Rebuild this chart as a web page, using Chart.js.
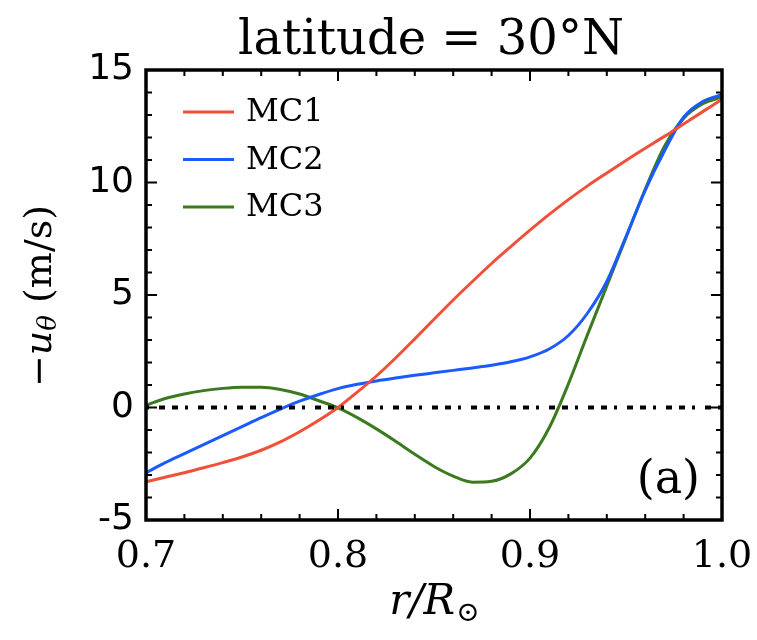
<!DOCTYPE html>
<html>
<head>
<meta charset="utf-8">
<script src="https://cdn.jsdelivr.net/npm/chart.js@4.4.1/dist/chart.umd.min.js"></script>
<style>
  html, body { margin: 0; background: #fff; }
</style>
</head>
<body>
<canvas id="chart" width="757" height="640"></canvas>
<script>
// r / R_sun
const radius = [0.70, 0.71, 0.72, 0.73, 0.74, 0.75, 0.76, 0.77, 0.78, 0.79,
                0.80, 0.81, 0.82, 0.83, 0.84, 0.85, 0.86, 0.87, 0.88, 0.89,
                0.90, 0.91, 0.92, 0.93, 0.94, 0.95, 0.96, 0.97, 0.98, 0.99, 1.00];
// -u_theta (m/s)
const mc1 = [-3.3, -3.1, -2.9, -2.68, -2.45, -2.2, -1.9, -1.53, -1.08, -0.57,
             0.0, 0.68, 1.4, 2.2, 3.05, 3.92, 4.78, 5.6, 6.4, 7.15,
             7.88, 8.58, 9.24, 9.85, 10.42, 10.98, 11.52, 12.05, 12.6, 13.15, 13.7];
const mc2 = [-2.9, -2.45, -2.05, -1.65, -1.25, -0.85, -0.45, -0.07, 0.28, 0.58,
             0.84, 1.03, 1.18, 1.31, 1.43, 1.54, 1.65, 1.76, 1.88, 2.03,
             2.25, 2.6, 3.2, 4.2, 5.6, 7.6, 9.65, 11.4, 12.9, 13.6, 13.9];
const mc3 = [0.1, 0.4, 0.6, 0.75, 0.85, 0.9, 0.9, 0.8, 0.6, 0.3,
             -0.02, -0.45, -0.95, -1.5, -2.08, -2.62, -3.05, -3.32, -3.28, -2.95,
             -2.25, -0.9, 1.05, 3.25, 5.4, 7.55, 9.7, 11.6, 12.85, 13.5, 13.8];

const seriesNames = ["MC1", "MC2", "MC3"];
const seriesColors = ["#f0503a", "#1a5aff", "#3b7a1e"];
const xTicks = [0.7, 0.8, 0.9, 1.0];
const yTicks = [-5, 0, 5, 10, 15];
const zeroX = [0.7, 1.0];
const zeroY = [0, 0];

const serif = "'DejaVu Serif', serif";
const sans = "'DejaVu Sans', sans-serif";

function curve(name, vals, color) {
    return {
        label: name,
        data: radius.map((r, i) => ({ x: r, y: vals[i] })),
        borderColor: color,
        borderWidth: 3,
        pointRadius: 0,
        cubicInterpolationMode: "monotone",
        fill: false,
        order: 1
    };
}

// frame, inward ticks, legend, labels
const decor = {
    id: "decor",
    afterDatasetsDraw(chart) {
        const ctx = chart.ctx;
        const a = chart.chartArea;
        const sx = chart.scales.x, sy = chart.scales.y;
        ctx.save();
        ctx.strokeStyle = "#000";
        ctx.lineWidth = 2;
        ctx.beginPath();
        for (let i = 0; i <= 15; i++) {
            const px = sx.getPixelForValue(0.7 + i * 0.02);
            const len = i % 5 === 0 ? 11 : 6;
            ctx.moveTo(px, a.bottom); ctx.lineTo(px, a.bottom - len);
            ctx.moveTo(px, a.top); ctx.lineTo(px, a.top + len);
        }
        for (let v = -5; v <= 15; v++) {
            const py = sy.getPixelForValue(v);
            const len = v % 5 === 0 ? 11 : 6;
            ctx.moveTo(a.left, py); ctx.lineTo(a.left + len, py);
            ctx.moveTo(a.right, py); ctx.lineTo(a.right - len, py);
        }
        ctx.stroke();
        ctx.lineWidth = 3.5;
        ctx.strokeRect(a.left, a.top, a.right - a.left, a.bottom - a.top);

        // legend
        ctx.font = "32px " + serif;
        ctx.textBaseline = "middle";
        ctx.fillStyle = "#000";
        seriesNames.forEach((n, i) => {
            const ly = a.top + 42 + i * 47.5;
            ctx.strokeStyle = seriesColors[i];
            ctx.lineWidth = 3;
            ctx.beginPath();
            ctx.moveTo(a.left + 37, ly); ctx.lineTo(a.left + 88, ly);
            ctx.stroke();
            ctx.fillText(n, a.left + 100, ly + 1);
        });

        // panel tag
        ctx.font = "46px " + serif;
        ctx.textAlign = "right";
        ctx.textBaseline = "alphabetic";
        ctx.fillText("(a)", a.right - 22, a.bottom - 27);

        // title
        ctx.textAlign = "center";
        ctx.font = "48px " + serif;
        ctx.fillText("latitude = 30\u00b0N", 431, 54);

        // x title
        ctx.textAlign = "left";
        const t1 = "r/R";
        ctx.font = "italic 42px " + serif;
        const w1 = ctx.measureText(t1).width;
        ctx.font = "28px " + serif;
        const w2 = ctx.measureText("\u2299").width;
        const x0 = (a.left + a.right) / 2 - (w1 + w2) / 2;
        ctx.font = "italic 42px " + serif;
        ctx.fillText(t1, x0, 614);
        ctx.font = "28px " + serif;
        ctx.fillText("\u2299", x0 + w1 + 1, 621);

        // y title
        ctx.translate(41, 296);
        ctx.rotate(-Math.PI / 2);
        const parts = [
            ["\u2212", "38px " + serif, 0],
            ["u", "italic 38px " + serif, 0],
            ["\u03b8", "italic 26px " + serif, 8],
            [" (m/s)", "38px " + serif, 0]
        ];
        let tw = 0;
        parts.forEach(p => { ctx.font = p[1]; tw += ctx.measureText(p[0]).width; });
        let cx = -tw / 2;
        ctx.textBaseline = "middle";
        parts.forEach(p => {
            ctx.font = p[1];
            ctx.fillText(p[0], cx, p[2]);
            cx += ctx.measureText(p[0]).width;
        });
        ctx.restore();
    }
};

new Chart(document.getElementById("chart").getContext("2d"), {
    type: "line",
    data: {
        datasets: [
            curve(seriesNames[0], mc1, seriesColors[0]),
            curve(seriesNames[1], mc2, seriesColors[1]),
            curve(seriesNames[2], mc3, seriesColors[2]),
            {
                label: "zero",
                data: zeroX.map((r, i) => ({ x: r, y: zeroY[i] })),
                borderColor: "#000",
                borderWidth: 4,
                borderDash: [3, 10, 6, 7, 6, 7],
                pointRadius: 0,
                fill: false,
                order: 0
            }
        ]
    },
    options: {
        responsive: false,
        animation: false,
        layout: { padding: { left: 0, right: 35, top: 70, bottom: 0 } },
        plugins: { legend: { display: false }, tooltip: { enabled: false } },
        scales: {
            x: {
                type: "linear",
                min: 0.7, max: 1.0,
                afterBuildTicks: s => { s.ticks = xTicks.map(v => ({ value: v })); },
                afterFit: s => { s.height = 120; s.paddingLeft = 0; s.paddingRight = 0; },
                grid: { display: false, drawTicks: false },
                border: { display: false },
                ticks: {
                    color: "#000",
                    font: { family: serif, size: 38 },
                    padding: 14,
                    maxRotation: 0,
                    callback: v => v.toFixed(1)
                }
            },
            y: {
                min: -5, max: 15,
                afterBuildTicks: s => { s.ticks = yTicks.map(v => ({ value: v })); },
                afterFit: s => { s.width = 146; s.paddingTop = 0; s.paddingBottom = 0; },
                grid: { display: false, drawTicks: false },
                border: { display: false },
                ticks: {
                    color: "#000",
                    font: { family: sans, size: 36 },
                    padding: 12,
                    callback: v => String(v)
                }
            }
        }
    },
    plugins: [decor]
});
</script>
</body>
</html>
